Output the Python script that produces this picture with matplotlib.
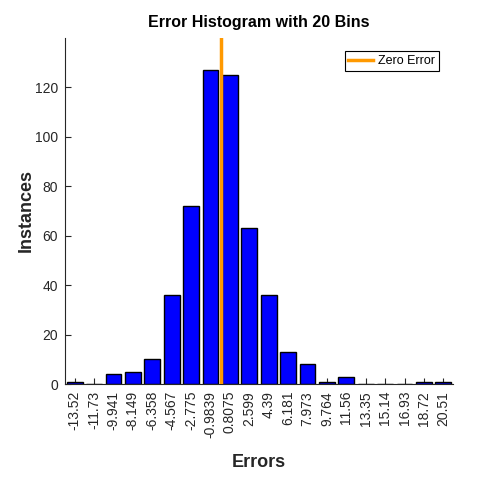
import matplotlib
matplotlib.use("Agg")
import matplotlib.pyplot as plt
import numpy as np

plt.rcParams['font.family'] = ['Liberation Sans', 'DejaVu Sans']

bin_centers = [-13.52, -11.73, -9.941, -8.149, -6.358, -4.567, -2.775, -0.9839,
               0.8075, 2.599, 4.39, 6.181, 7.973, 9.764, 11.56, 13.35, 15.14,
               16.93, 18.72, 20.51]
tick_labels = ["-13.52", "-11.73", "-9.941", "-8.149", "-6.358", "-4.567", "-2.775",
               "-0.9839", "0.8075", "2.599", "4.39", "6.181", "7.973", "9.764",
               "11.56", "13.35", "15.14", "16.93", "18.72", "20.51"]
counts = [1, 0, 4, 5, 10, 36, 72, 127, 125, 63, 36, 13, 8, 1, 3, 0, 0, 0, 1, 1]
zero_error = 0.0

gray = '#262626'
fig = plt.figure(figsize=(5, 5), dpi=100)
ax = fig.add_axes([0.13, 0.232, 0.776, 0.692])

w = bin_centers[1] - bin_centers[0]
ax.bar(bin_centers, counts, width=w * 0.82, color='#0000ff', edgecolor='black',
       linewidth=1.0, zorder=2)
ax.axvline(zero_error, color='#ff9900', linewidth=2.5, zorder=3, label='Zero Error')

ax.set_xlim(bin_centers[0] - w / 2, bin_centers[-1] + w / 2)
ax.set_ylim(0, 140)
ax.set_xticks(bin_centers)
ax.set_xticklabels(tick_labels, rotation=90, fontsize=10)
ax.set_yticks([0, 20, 40, 60, 80, 100, 120])
ax.tick_params(axis='y', labelsize=10, direction='in', length=4, width=0.8, pad=5,
               colors=gray)
ax.tick_params(axis='x', direction='in', length=4, width=0.8, pad=5, colors=gray)
for s in ['top', 'right']:
    ax.spines[s].set_visible(False)
for s in ['left', 'bottom']:
    ax.spines[s].set_linewidth(0.8)
    ax.spines[s].set_color(gray)

ax.set_title("Error Histogram with 20 Bins", fontsize=11.5, fontweight='bold', pad=8)
ax.set_xlabel("Errors", fontsize=13, fontweight='bold', labelpad=12, color=gray)
ax.set_ylabel("Instances", fontsize=13, fontweight='bold', labelpad=0, color=gray)

leg = ax.legend(loc='upper right', fontsize=9, fancybox=False, framealpha=1,
                edgecolor='black', handlelength=2.0, borderpad=0.3,
                handletextpad=0.4, borderaxespad=0,
                bbox_to_anchor=(0.964, 0.962))
leg.get_frame().set_linewidth(0.8)

fig.savefig("out.png", dpi=100)
